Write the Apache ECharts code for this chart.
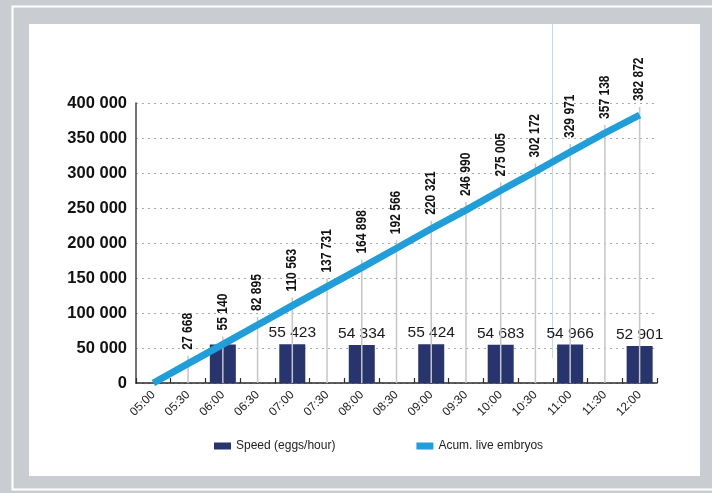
<!DOCTYPE html>
<html>
<head>
<meta charset="utf-8">
<script src="https://cdn.jsdelivr.net/npm/echarts@6/dist/echarts.min.js"></script>
<style>
html,body{margin:0;padding:0;background:#c9ccd1;}
#chart{width:712px;height:493px;}
</style>
</head>
<body>
<div id="chart"></div>
<script>
const categories = ['05:00','05:30','06:00','06:30','07:00','07:30','08:00','08:30','09:00','09:30','10:00','10:30','11:00','11:30','12:00'];
const acumEmbryos = [0, 27668, 55140, 82895, 110563, 137731, 164898, 192566, 220321, 246990, 275005, 302172, 329971, 357138, 382872];
const speedEggs = [null, null, 55140, null, 55423, null, 54334, null, 55424, null, 54683, null, 54966, null, 52901];
const yTicks = {min: 0, max: 400000, interval: 50000};
const seriesNames = ['Speed (eggs/hour)', 'Acum. live embryos'];

function fmt(v){ return String(v).replace(/\B(?=(\d{3})+(?!\d))/g, ' '); }

const chart = echarts.init(document.getElementById('chart'), null, {renderer:'canvas'});

const dropData = acumEmbryos.map((v,i)=>[i,v]).filter(d=>d[1]>0);

chart.setOption({
  backgroundColor: '#c9ccd1',
  animation: false,
  graphic: [
    {type:'rect', z:-100, shape:{x:12.5,y:6.5,width:720,height:483}, style:{fill:'none', stroke:'#ffffff', lineWidth:2}},
    {type:'rect', z:-99, shape:{x:29,y:24,width:671,height:452}, style:{fill:'#ffffff'}},
    {type:'line', z:-98, shape:{x1:552.5,y1:24,x2:552.5,y2:358}, style:{stroke:'#b5def2', lineWidth:1}}
  ],
  grid: {left:136, right:55, top:103, bottom:110, containLabel:false},
  legend: {
    left: 209, top: 435, itemWidth: 17, itemHeight: 7, itemGap: 81,
    textStyle: {fontFamily:'Liberation Sans', fontSize:12, color:'#222'},
    data: [{name: seriesNames[0], icon:'rect'}, {name: seriesNames[1], icon:'rect'}]
  },
  xAxis: {
    type:'category', data: categories, boundaryGap: true,
    axisLine: {lineStyle:{color:'#2a2a2a', width:1.5}},
    axisTick: {show:true, inside:true, length:5, interval:0, lineStyle:{color:'#2a2a2a', width:1.2}},
    axisLabel: {rotate:45, interval:0, margin:10, fontFamily:'Liberation Sans', fontSize:12, color:'#222'},
    splitLine: {show:false}
  },
  yAxis: {
    type:'value', min: yTicks.min, max: yTicks.max, interval: yTicks.interval,
    axisLine: {show:true, lineStyle:{color:'#444', width:1.5}},
    axisTick: {show:false},
    axisLabel: {margin:9, fontFamily:'Liberation Sans', fontWeight:'bold', fontSize:16.5, color:'#111', formatter: fmt},
    splitLine: {show:true, lineStyle:{color:'#aaaaaa', type:[2,4], width:1}}
  },
  series: [
    {
      name: seriesNames[0], type:'bar', data: speedEggs.map((v,i)=> i===2 ? {value:v, label:{show:false}} : v),
      barWidth: 26, itemStyle:{color:'#27346e'}, z:2,
      label: {show:true, position:'top', distance:3, fontFamily:'Liberation Sans', fontSize:15.5, color:'#1a1a1a', formatter: p=>fmt(p.value)}
    },
    {
      name: 'drop', type:'custom', data: dropData, z:3, silent:true,
      encode:{x:0, y:1},
      renderItem: function(params, api){
        const i = api.value(0), v = api.value(1);
        const base = api.coord([i, 0]);
        const pt = api.coord([i, v]);
        return {type:'group', children:[
          {type:'line', shape:{x1:pt[0], y1:base[1], x2:pt[0], y2:pt[1]-8}, style:{stroke:'#c6c6c6', lineWidth:1.5}},
          {type:'text', x:pt[0], y:pt[1]-14, rotation:Math.PI/2, scaleX:0.86, z2:10,
           style:{text:fmt(v), font:'bold 14px "Liberation Sans", sans-serif', fill:'#111', align:'left', verticalAlign:'middle'}}
        ]};
      }
    },
    {
      name: seriesNames[1], type:'line', data: acumEmbryos, z:4,
      showSymbol:false, symbol:'none',
      lineStyle:{color:'#1f9ed9', width:7, cap:'butt'}, itemStyle:{color:'#1f9ed9'}
    }
  ]
});
</script>
</body>
</html>
